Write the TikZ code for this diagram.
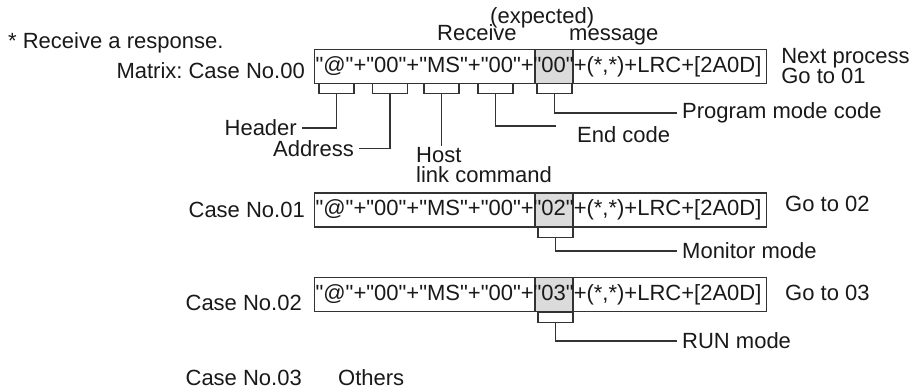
\documentclass[tikz,border=0pt]{standalone}
\usepackage{fontspec}
\setmainfont{Liberation Sans}[Ligatures=TeXOff]
\usetikzlibrary{positioning}
\frenchspacing
\begin{document}
\begin{tikzpicture}[
    x=1pt, y=-1pt,
    every node/.style={font=\fontsize{22}{20}\selectfont, text=black!90},
    msg/.style={draw=black!80, line width=1.1pt, minimum height=34pt, inner xsep=1pt, text width=450pt, align=left, anchor=west},
    hl/.style={draw=black!80, line width=1.1pt, fill=black!14, minimum width=38pt, minimum height=34pt, inner sep=0pt},
    brk/.style={draw=black!80, line width=1.1pt, minimum width=35pt, minimum height=10pt, inner sep=0pt, anchor=north},
    lead/.style={draw=black!80, line width=1.1pt},
    lbl/.style={inner xsep=5pt, inner ysep=1pt}
]
\useasboundingbox (0,0) rectangle (916,391);

\node[lbl, anchor=west] (note) at (3,43) {* Receive a response.};
\node[lbl, anchor=base west] (rcv) at (432,40) {Receive};
\node[lbl, anchor=base west] (expd) at (485,23) {(expected)};
\node[lbl, anchor=base west] (mesg) at (564,40) {message};

\node[hl] (hl0) at (554,66.5) {};
\node[msg] (row0) at (314,66.5) {"@"+"00"+"MS"+"00"+"00"+(*,*)+LRC+[2A0D]};
\node[lbl, anchor=east] (case0) at (310,71) {Matrix: Case No.00};
\node[lbl, align=left, right=9pt of row0] (next0) {Next process\\Go to 01};
\node[brk] (b-hdr) at (336.5,83) {};
\node[brk] (b-adr) at (390,83) {};
\node[brk] (b-cmd) at (441.5,83) {};
\node[brk] (b-end) at (495.5,83) {};
\node[brk] (b-pmc) at (554.5,83) {};
\node[lbl, anchor=east] (hdr) at (302,128) {Header};
\node[lbl, anchor=east] (adr) at (359,148.5) {Address};
\node[lbl, anchor=north west, align=left] (cmd) at (411,146) {Host\\link command};
\coordinate (endc-tip) at (556,126);
\node[lbl, anchor=west] (endc) at (572,135) {End code};
\node[lbl, anchor=west] (pmc) at (677,113) {Program mode code};
\draw[lead] (b-hdr.south) |- (hdr.east);
\draw[lead] (b-adr.south) |- (adr.east);
\draw[lead] (b-cmd.south) -- (b-cmd.south |- cmd.north);
\draw[lead] (b-end.south) |- (endc-tip);
\draw[lead] (b-pmc.south) |- (pmc.west);

\node[hl] (hl1) at (554,210) {};
\node[msg] (row1) at (314,210) {"@"+"00"+"MS"+"00"+"02"+(*,*)+LRC+[2A0D]};
\node[lbl, left=4pt of row1] (case1) {Case No.01};
\node[lbl, anchor=west] (go1) at (780,204) {Go to 02};
\node[brk] (b-mon) at (555.5,227) {};
\node[lbl, anchor=west] (mon) at (677,251) {Monitor mode};
\draw[lead] (b-mon.south) |- (mon.west);

\node[hl] (hl2) at (554,294.5) {};
\node[msg] (row2) at (314,294.5) {"@"+"00"+"MS"+"00"+"03"+(*,*)+LRC+[2A0D]};
\node[lbl, anchor=east] (case2) at (307,302.5) {Case No.02};
\node[lbl, anchor=west] (go2) at (780,292.5) {Go to 03};
\node[brk] (b-run) at (555.5,312) {};
\node[lbl, anchor=west] (run) at (677,341) {RUN mode};
\draw[lead] (b-run.south) |- (run.west);

\node[lbl, anchor=east] (case3) at (307,378) {Case No.03};
\node[lbl, anchor=west] (others) at (333,378) {Others};
\end{tikzpicture}
\end{document}
